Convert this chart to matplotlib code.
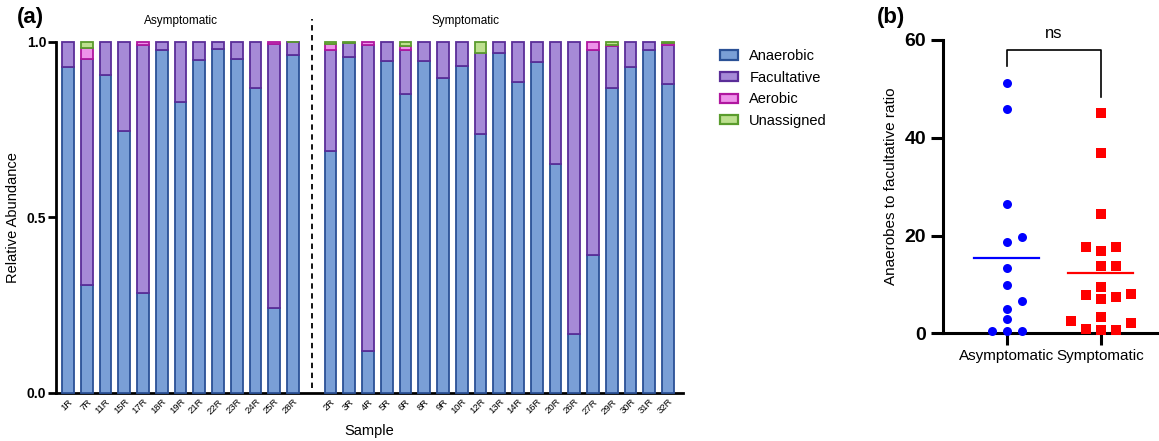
import numpy as np
import matplotlib
matplotlib.use("Agg")
import matplotlib.pyplot as plt
from matplotlib.patches import Patch

plt.rcParams["font.family"] = ["Liberation Sans", "DejaVu Sans"]

# ---------------- data ----------------
samples_asym = ["1R", "7R", "11R", "15R", "17R", "18R", "19R", "21R", "22R", "23R", "24R", "25R", "28R"]
samples_sym = ["2R", "3R", "4R", "5R", "6R", "8R", "9R", "10R", "12R", "13R", "14R", "16R", "20R",
               "26R", "27R", "29R", "30R", "31R", "32R"]

anaerobic_asym = [0.928, 0.307, 0.906, 0.746, 0.285, 0.977, 0.828, 0.947, 0.978, 0.950, 0.867, 0.241, 0.961]
facultative_asym = [0.072, 0.645, 0.094, 0.254, 0.707, 0.023, 0.172, 0.053, 0.022, 0.050, 0.133, 0.752, 0.037]
aerobic_asym = [0.0, 0.030, 0.0, 0.0, 0.008, 0.0, 0.0, 0.0, 0.0, 0.0, 0.0, 0.007, 0.0]
unassigned_asym = [0.0, 0.018, 0.0, 0.0, 0.0, 0.0, 0.0, 0.0, 0.0, 0.0, 0.0, 0.0, 0.002]

anaerobic_sym = [0.689, 0.957, 0.119, 0.944, 0.852, 0.944, 0.898, 0.930, 0.737, 0.969, 0.885, 0.941,
                 0.653, 0.167, 0.394, 0.867, 0.927, 0.976, 0.879]
facultative_sym = [0.288, 0.040, 0.871, 0.056, 0.124, 0.056, 0.100, 0.070, 0.232, 0.031, 0.115, 0.059,
                   0.347, 0.833, 0.582, 0.121, 0.071, 0.024, 0.113]
aerobic_sym = [0.017, 0.0, 0.010, 0.0, 0.012, 0.0, 0.0, 0.0, 0.0, 0.0, 0.0, 0.0,
               0.0, 0.0, 0.024, 0.002, 0.0, 0.0, 0.005]
unassigned_sym = [0.006, 0.003, 0.0, 0.0, 0.012, 0.0, 0.0, 0.0, 0.031, 0.0, 0.0, 0.0,
                  0.0, 0.0, 0.0, 0.010, 0.0, 0.0, 0.003]

categories = ["Anaerobic", "Facultative", "Aerobic", "Unassigned"]
groups = ["Asymptomatic", "Symptomatic"]

ratio_asym = [51.3, 45.8, 26.5, 19.8, 18.6, 13.4, 9.9, 6.6, 4.9, 2.9, 0.5, 0.5, 0.5]
ratio_sym = [45.0, 36.8, 24.5, 17.6, 17.6, 16.9, 13.8, 13.7, 9.4, 8.0, 7.8, 7.5, 7.0,
             3.3, 2.5, 2.2, 0.8, 0.6, 0.6]

# ---------------- styles ----------------
face_colors = ["#7a9fd6", "#a68ad7", "#ee92ea", "#bde08f"]
edge_colors = ["#2b5196", "#5a2d98", "#b0179f", "#5a9c2d"]

W, H = 1159, 441
fig = plt.figure(figsize=(W / 100, H / 100), dpi=100)

# ---------------- panel (a) ----------------
ax1 = fig.add_axes([56 / W, (H - 393) / H, (683 - 56) / W, (393 - 41.7) / H])
n_a = len(samples_asym)
pos = list(range(n_a)) + list(range(n_a + 1, n_a + 1 + len(samples_sym)))
labels = samples_asym + samples_sym
stack = [anaerobic_asym + anaerobic_sym,
         facultative_asym + facultative_sym,
         aerobic_asym + aerobic_sym,
         unassigned_asym + unassigned_sym]
bottom = np.zeros(len(pos))
for vals, fc, ec in zip(stack, face_colors, edge_colors):
    vals = np.array(vals)
    mask = vals > 0
    ax1.bar(np.array(pos)[mask], vals[mask], bottom=bottom[mask], width=0.62,
            color=fc, edgecolor=ec, linewidth=1.3, clip_on=False, zorder=3)
    bottom += vals

ax1.set_xlim(-0.64, pos[-1] + 0.8)
ax1.set_ylim(0, 1)
ax1.set_xticks(pos)
ax1.set_xticklabels(labels, rotation=45, ha="right", rotation_mode="anchor", fontsize=6.8)
ax1.tick_params(axis="x", length=0, pad=3)
ax1.set_yticks([0.0, 0.5, 1.0])
ax1.set_yticklabels(["0.0", "0.5", "1.0"], fontsize=10, fontweight="bold")
ax1.tick_params(axis="y", length=6, width=2, pad=1)
for s in ["top", "right"]:
    ax1.spines[s].set_visible(False)
ax1.spines["left"].set_linewidth(2)
ax1.spines["bottom"].set_linewidth(2)
ax1.spines["left"].set_bounds(0, 1)
ax1.set_ylabel("Relative Abundance", fontsize=10.5, labelpad=5)
ax1.set_xlabel("Sample", fontsize=10.5, labelpad=6)

sep = n_a
ax1.plot([sep, sep], [0.015, 1.065], ls=(0, (3, 2.5)), color="black", lw=1.3, clip_on=False)
ax1.text((n_a - 1) / 2, 1.058, groups[0], ha="center", va="center", fontsize=8.5)
ax1.text(21.2, 1.058, groups[1], ha="center", va="center", fontsize=8.5)

handles = [Patch(facecolor=fc, edgecolor=ec, linewidth=1.6) for fc, ec in zip(face_colors, edge_colors)]
fig.legend(handles, categories, loc="upper left", bbox_to_anchor=(707 / W, 1 - 36 / H),
           frameon=False, fontsize=10.5, handlelength=1.25, handleheight=0.6,
           handletextpad=0.75, labelspacing=0.52)

fig.text(17 / W, 1 - 18 / H, "(a)", fontsize=16, fontweight="bold", va="center")
fig.text(877 / W, 1 - 18 / H, "(b)", fontsize=16, fontweight="bold", va="center")

# ---------------- panel (b) ----------------
ax2 = fig.add_axes([943 / W, (H - 333.3) / H, (1158 - 943) / W, (333.3 - 40) / H])
ax2.set_xlim(-0.678, 1.61)
ax2.set_ylim(0, 60)
for s in ["top", "right"]:
    ax2.spines[s].set_visible(False)
ax2.spines["left"].set_linewidth(2.2)
ax2.spines["bottom"].set_linewidth(2.2)
ax2.spines["left"].set_bounds(0, 60)
ax2.set_yticks([0, 20, 40, 60])
ax2.set_yticklabels(["0", "20", "40", "60"], fontsize=14, fontweight="bold")
ax2.set_xticks([0, 1])
ax2.set_xticklabels(groups, fontsize=11)
ax2.tick_params(axis="both", length=8.5, width=2.2)
ax2.tick_params(axis="x", pad=3)
ax2.set_ylabel("Anaerobes to facultative ratio", fontsize=11, labelpad=5)

fig.canvas.draw()


def swarm(xc, values, ax, diam_px=9.5, step_px=15.0):
    """Simple deterministic beeswarm offsets computed in display space."""
    trans = ax.transData
    order = np.argsort(values)
    placed = []
    xs = np.zeros(len(values))
    px0 = trans.transform((xc, 0))[0]
    px1 = trans.transform((xc + 1, 0))[0]
    step = step_px / (px1 - px0)
    for i in order:
        ypx = trans.transform((xc, values[i]))[1]
        for k in [0, 1, -1, 2, -2, 3, -3, 4, -4]:
            xo = xc + k * step
            xpx = trans.transform((xo, 0))[0]
            if all((xpx - a) ** 2 + (ypx - b) ** 2 >= diam_px ** 2 for a, b in placed):
                placed.append((xpx, ypx))
                xs[i] = xo
                break
    return xs


xa = swarm(0, ratio_asym, ax2)
xs = swarm(1, ratio_sym, ax2)
ax2.scatter(xa, ratio_asym, s=42, marker="o", color="#0000ff", linewidths=0, clip_on=False, zorder=3)
ax2.scatter(xs, ratio_sym, s=44, marker="s", color="#ff0000", linewidths=0, clip_on=False, zorder=3)
ax2.plot([-0.345, 0.345], [np.mean(ratio_asym)] * 2, color="#0000ff", lw=1.6, zorder=4)
ax2.plot([1 - 0.345, 1 + 0.345], [np.mean(ratio_sym)] * 2, color="#ff0000", lw=1.6, zorder=4)

ax2.plot([0, 0, 1, 1], [54.7, 57.9, 57.9, 48.4], color="black", lw=1.2, clip_on=False)
ax2.text(0.5, 61.4, "ns", ha="center", va="center", fontsize=12)

fig.savefig("out.png", dpi=100)
